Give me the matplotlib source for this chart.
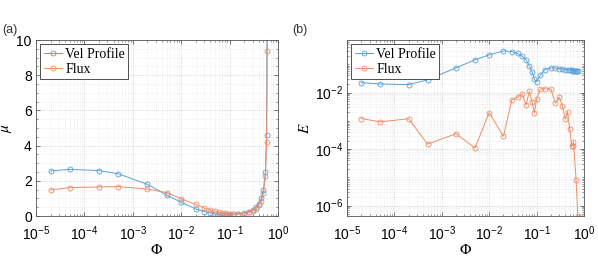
import numpy as np
import matplotlib
matplotlib.use("Agg")
import matplotlib.pyplot as plt
from matplotlib.ticker import LogLocator, NullFormatter, FixedLocator

plt.rcParams['mathtext.fontset'] = 'stix'
plt.rcParams['font.family'] = ['Liberation Sans', 'DejaVu Sans']

# ---------------- data ----------------
phi = [2e-5, 5e-5, 2e-4, 5e-4, 2e-3, 5e-3, 0.01, 0.02, 0.03, 0.04, 0.05, 0.06,
       0.07, 0.08, 0.09, 0.1, 0.12, 0.15, 0.2, 0.25, 0.3, 0.35, 0.4, 0.45, 0.5,
       0.55, 0.58, 0.6, 0.64, 0.68, 0.72, 0.74]

mu_vel = [2.56, 2.65, 2.58, 2.4, 1.8, 1.19, 0.78, 0.4, 0.25, 0.18, 0.12, 0.08,
          0.05, 0.05, 0.07, 0.08, 0.1, 0.13, 0.18, 0.25, 0.35, 0.5, 0.7, 1.0, 1.5,
          2.5, 4.6, 14.0, 30.0, 60.0, 120.0, 200.0]
mu_flux = [1.48, 1.61, 1.65, 1.67, 1.53, 1.33, 0.98, 0.66, 0.45, 0.35, 0.27, 0.22,
           0.18, 0.15, 0.13, 0.12, 0.1, 0.1, 0.12, 0.2, 0.3, 0.4, 0.6, 0.85, 1.3,
           2.25, 4.2, 9.4, 25.0, 55.0, 110.0, 180.0]

E_vel = [0.0224, 0.020, 0.019, 0.028, 0.075, 0.143, 0.215, 0.297, 0.28, 0.24, 0.19,
         0.143, 0.089, 0.055, 0.029, 0.024, 0.041, 0.065, 0.074, 0.073, 0.07, 0.067,
         0.065, 0.063, 0.062, 0.061, 0.060, 0.059, 0.059, 0.058, 0.058, 0.058]

phi_flux_b = [2e-5, 5e-5, 2e-4, 5e-4, 2e-3, 5e-3, 0.01, 0.02, 0.03, 0.04, 0.05, 0.06,
              0.07, 0.08, 0.09, 0.1, 0.12, 0.15, 0.2, 0.25, 0.3, 0.35, 0.4, 0.45,
              0.5, 0.55, 0.58, 0.6, 0.68, 0.74]
E_flux = [1.2e-3, 9.2e-4, 1.18e-3, 1.5e-4, 3.5e-4, 1.08e-4, 1.95e-3, 2.8e-4, 5.5e-3,
          6.9e-3, 8.8e-3, 3.6e-3, 1.1e-2, 4.8e-3, 1.9e-3, 6.0e-3, 1.35e-2, 1.35e-2,
          1.35e-2, 4.2e-3, 6.9e-3, 3.4e-3, 1.15e-3, 2.1e-3, 5.1e-4, 1.3e-4, 1.3e-4,
          1.85e-4, 8.3e-6, 4.4e-7]

labels = ['Vel Profile', 'Flux']
c_blue = '#5aa0d6'
c_orange = '#ef8c66'

# ---------------- figure ----------------
fig = plt.figure(figsize=(5.98, 2.59), dpi=100)
axA = fig.add_axes([36/598, 43/259, 242/598, 176/259])
axB = fig.add_axes([347/598, 43/259, 237/598, 176/259])

mk = dict(marker='o', markersize=3.6, markerfacecolor='none', linewidth=0.7,
          markeredgewidth=0.6)

axA.plot(phi, mu_vel, color=c_blue, label=labels[0], **mk)
axA.plot(phi, mu_flux, color=c_orange, label=labels[1], **mk)
axA.set_xscale('log')
axA.set_xlim(1e-5, 1)
axA.set_ylim(0, 10)
axA.set_yticks([0, 2, 4, 6, 8, 10])
axA.yaxis.set_minor_locator(FixedLocator(np.arange(0, 10.01, 0.5)))
axA.set_ylabel(r'$\mu$', fontsize=11, labelpad=2)

axB.plot(phi, E_vel, color=c_blue, label=labels[0], **mk)
axB.plot(phi_flux_b, E_flux, color=c_orange, label=labels[1], **mk)
axB.set_xscale('log')
axB.set_yscale('log')
axB.set_xlim(1e-5, 1)
axB.set_ylim(4.3e-7, 0.72)
axB.yaxis.set_major_locator(FixedLocator([1e-6, 1e-4, 1e-2]))
axB.yaxis.set_minor_locator(LogLocator(base=10, subs=np.arange(1, 10), numticks=20))
axB.yaxis.set_minor_formatter(NullFormatter())
axB.set_ylabel(r'$E$', fontsize=11, labelpad=2)

for ax in (axA, axB):
    ax.xaxis.set_major_locator(FixedLocator([1e-5, 1e-4, 1e-3, 1e-2, 1e-1, 1]))
    ax.xaxis.set_minor_locator(LogLocator(base=10, subs=np.arange(2, 10), numticks=20))
    ax.xaxis.set_minor_formatter(NullFormatter())
    ax.set_xlabel(r'$\Phi$', fontsize=11, labelpad=0)
    ax.tick_params(which='both', direction='in', top=True, right=True,
                   labelsize=10, color='#444444')
    ax.tick_params(axis='x', which='major', pad=6)
    ax.tick_params(axis='y', which='major', pad=3)
    ax.tick_params(which='major', length=3, width=0.5)
    ax.tick_params(which='minor', length=1.5, width=0.4)
    ax.grid(True, which='major', linestyle=':', linewidth=0.5, color='#bbbbbb')
    ax.grid(True, which='minor', linestyle=':', linewidth=0.4, color='#dddddd')
    ax.set_axisbelow(True)
    for s in ax.spines.values():
        s.set_linewidth(0.6)
        s.set_color('#555555')
    leg = ax.legend(loc='upper left', frameon=True, fancybox=False,
                    edgecolor='#333333', framealpha=1, borderpad=0.25,
                    handlelength=1.3, handletextpad=0.25, labelspacing=0.15,
                    borderaxespad=0.3, prop={'family': 'Liberation Serif', 'size': 10})
    leg.get_frame().set_linewidth(0.6)

fig.text(2/598, 1 - 30/259, '(a)', fontsize=9, color='#333333', va='center', ha='left')
fig.text(292/598, 1 - 30/259, '(b)', fontsize=9, color='#333333', va='center', ha='left')

fig.savefig('out.png', dpi=100)
